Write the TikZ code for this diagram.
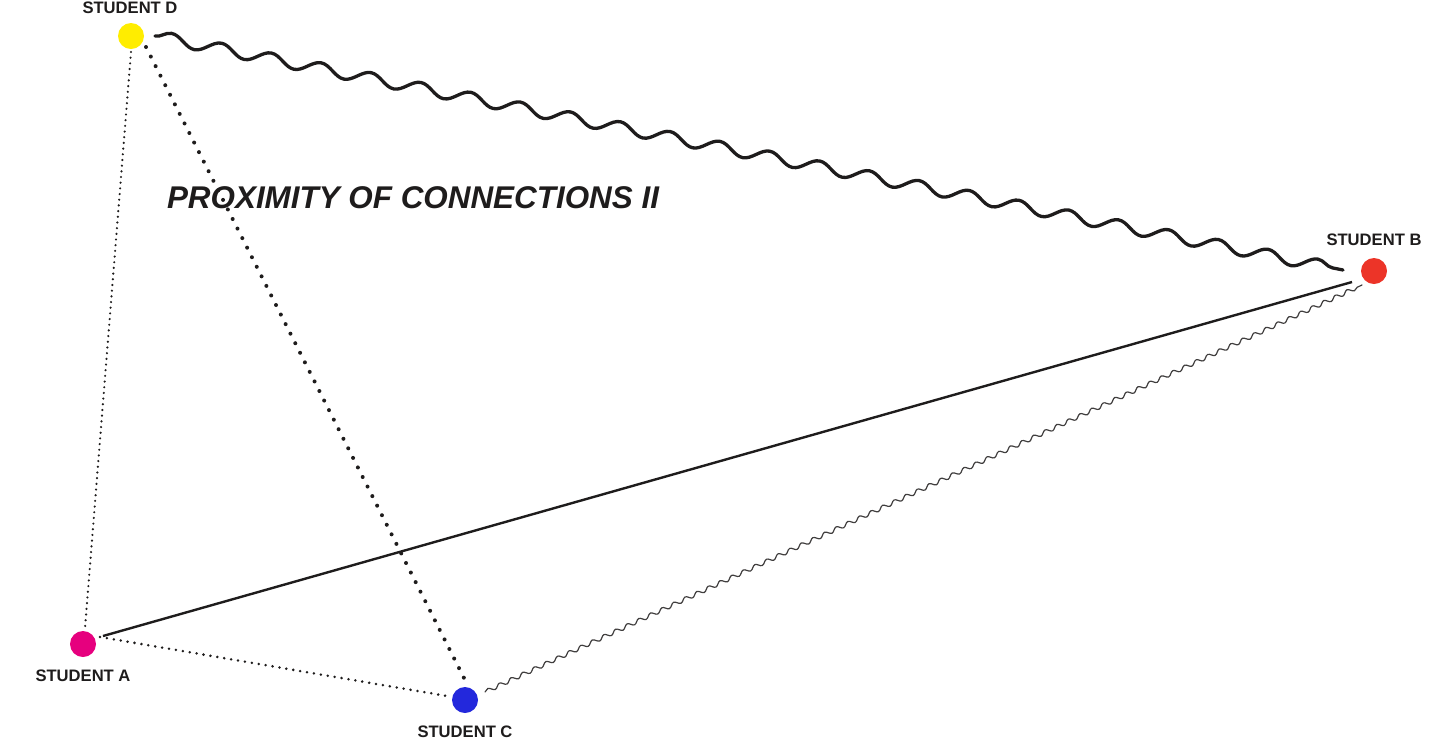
\documentclass[tikz,border=0pt]{standalone}
\usepackage{fontspec}
\setmainfont{Liberation Sans}
\usetikzlibrary{calc,decorations.pathmorphing}
\definecolor{cyel}{RGB}{255,237,0}
\definecolor{cred}{RGB}{236,52,40}
\definecolor{cmag}{RGB}{230,0,126}
\definecolor{cblu}{RGB}{35,40,220}
\definecolor{ink}{RGB}{30,28,28}
\begin{document}
\begin{tikzpicture}[x=0.5pt,y=-0.5pt,
  student/.style={circle,minimum size=13pt,inner sep=0pt,outer sep=0pt},
  lbl/.style={font=\fontsize{8.3}{10}\selectfont\bfseries,text=ink,inner sep=0pt},
  ttl/.style={font=\fontsize{15.7}{18}\selectfont\bfseries\itshape,text=ink,inner sep=0pt},
  bigwave/.style={line width=1.65pt,draw=ink,line cap=round,line join=round,decorate,
    decoration={snake,segment length=25.4pt,amplitude=2.9pt}},
  smallwave/.style={line width=0.6pt,draw=ink!85,line cap=round,decorate,
    decoration={snake,segment length=6.4pt,amplitude=1pt}},
  solidline/.style={line width=1.2pt,draw=ink},
  bigdots/.style={line width=2pt,draw=ink,line cap=round,dash pattern=on 0pt off 5.35pt},
  middots/.style={line width=1.4pt,draw=ink,line cap=round,dash pattern=on 0pt off 3.5pt},
  finedots/.style={line width=1.2pt,draw=ink,line cap=round,dash pattern=on 0pt off 2.85pt}
]
\useasboundingbox (0,0) rectangle (1450,741);

\node[student,fill=cyel] (D) at (131,36) {};
\node[student,fill=cred] (B) at (1374,271) {};
\node[student,fill=cmag] (A) at (83,644) {};
\node[student,fill=cblu] (C) at (465,700) {};

\node[lbl] (LD) at (130,8) {STUDENT D};
\node[lbl] (LB) at (1374,240) {STUDENT B};
\node[lbl] (LA) at (83,676) {STUDENT A};
\node[lbl] (LC) at (465,732) {STUDENT C};

\node[ttl] (T) at (413,198) {PROXIMITY OF CONNECTIONS II};

\draw[bigwave] ($(D)+(24,0)$) -- ($(B)+(-31,-1)$);
\draw[solidline] ($(B)+(-22,11)$) -- ($(A)+(20,-8)$);
\draw[smallwave] ($(C)+(20,-8)$) -- ($(B)+(-12,14)$);
\draw[bigdots] ($(D)+(15,11)$) -- ($(C)+(0,-20)$);
\draw[finedots] ($(D)+(0,16)$) -- ($(A)+(2,-16)$);
\draw[middots] ($(A)+(17,-7)$) -- ($(C)+(-18,-4)$);
\end{tikzpicture}
\end{document}
